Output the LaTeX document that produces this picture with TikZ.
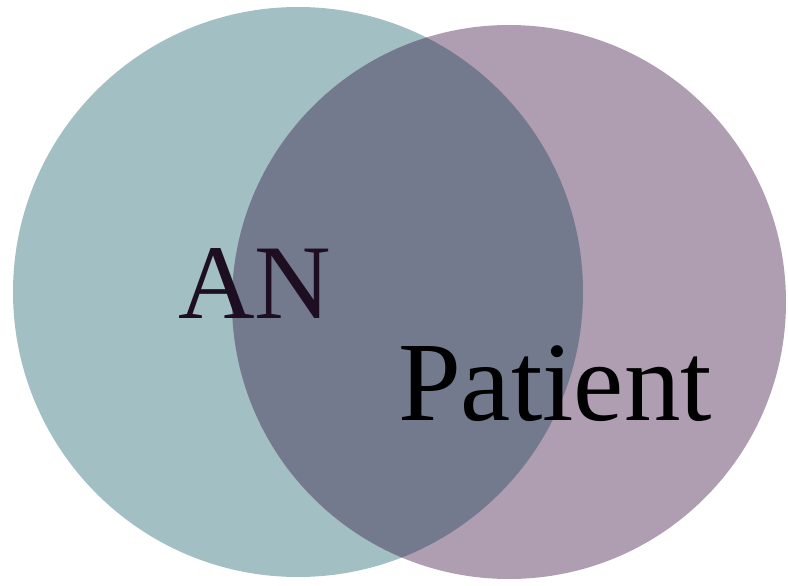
\documentclass[tikz,border=0pt]{standalone}
\usepackage{fontspec}
\setmainfont{Liberation Serif}
\definecolor{tealset}{HTML}{A2C0C3}
\definecolor{mauveset}{HTML}{AF9EB2}
\definecolor{overlapset}{HTML}{737A8D}
\definecolor{anink}{HTML}{1E0E22}
\begin{document}
\begin{tikzpicture}[x=1pt,y=-1pt,
    setlabel/.style={inner sep=0pt,anchor=base}]
  \useasboundingbox (0,0) rectangle (788,586);
  % the two sets
  \coordinate (an set) at (298,292);
  \coordinate (patient set) at (509,302);
  \fill[tealset] (an set) circle (285);
  \fill[mauveset] (patient set) circle (277);
  % their intersection
  \begin{scope}
    \clip (an set) circle (285);
    \fill[overlapset] (patient set) circle (277);
  \end{scope}
  \node[setlabel,text=anink,font=\fontsize{106}{106}\selectfont] (an) at (255,318) {AN};
  \node[setlabel,text=black,font=\fontsize{113}{113}\selectfont] (patient) at (555,420) {Patient};
\end{tikzpicture}
\end{document}
